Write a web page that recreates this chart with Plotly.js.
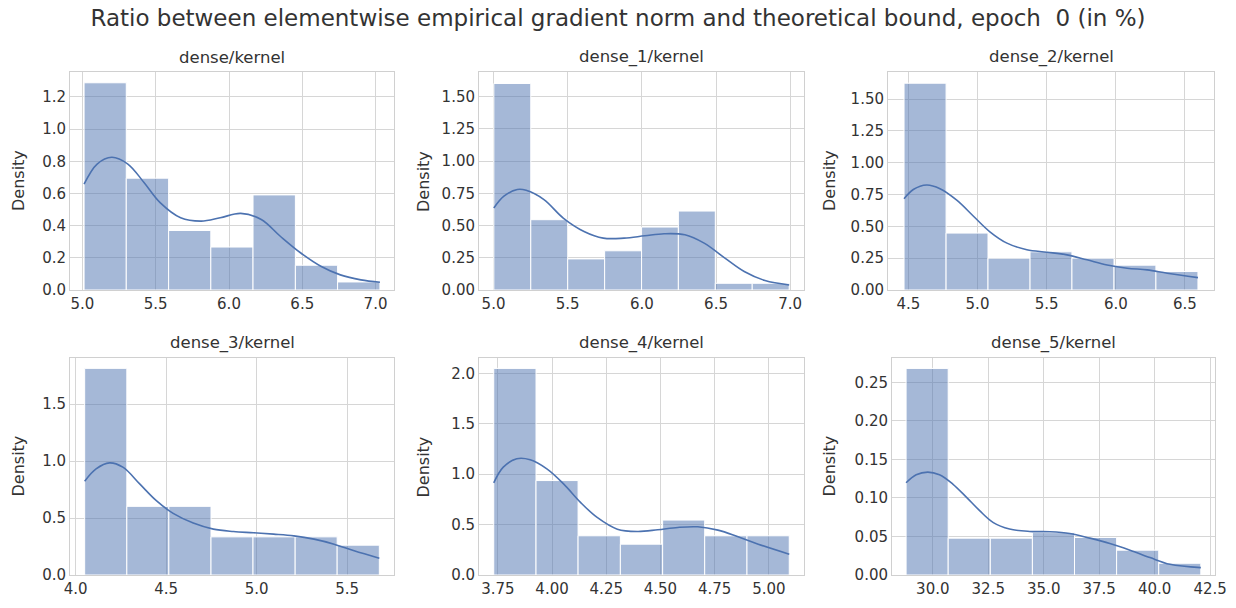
<!DOCTYPE html>
<html>
<head>
<meta charset="utf-8">
<script src="https://cdn.plot.ly/plotly-3.0.1.min.js"></script>
<style>html,body{margin:0;padding:0;background:#fff;}#chart{width:1236px;height:608px;}</style>
</head>
<body>
<div id="chart"></div>
<script>
// ---------- data ----------
const mainTitle = "Ratio between elementwise empirical gradient norm and theoretical bound, epoch  0 (in %)";
const panelTitles = ["dense/kernel", "dense_1/kernel", "dense_2/kernel", "dense_3/kernel", "dense_4/kernel", "dense_5/kernel"];

// histogram bin edges and densities
const edges0 = [5.011, 5.299, 5.588, 5.876, 6.164, 6.453, 6.741, 7.030];
const dens0  = [1.288, 0.695, 0.370, 0.267, 0.591, 0.154, 0.050];
const edges1 = [5.002, 5.251, 5.500, 5.749, 5.998, 6.246, 6.495, 6.744, 6.993];
const dens1  = [1.601, 0.545, 0.241, 0.304, 0.488, 0.612, 0.052, 0.052];
const edges2 = [4.469, 4.773, 5.076, 5.380, 5.683, 5.987, 6.290, 6.594];
const dens2  = [1.624, 0.447, 0.250, 0.300, 0.250, 0.195, 0.145];
const edges3 = [4.050, 4.283, 4.515, 4.748, 4.980, 5.213, 5.445, 5.678];
const dens3  = [1.815, 0.603, 0.603, 0.335, 0.335, 0.335, 0.262];
const edges4 = [3.731, 3.926, 4.120, 4.315, 4.510, 4.704, 4.899, 5.094];
const dens4  = [2.050, 0.937, 0.389, 0.306, 0.545, 0.389, 0.389];
const edges5 = [28.795, 30.693, 32.591, 34.489, 36.387, 38.285, 40.183, 42.081];
const dens5  = [0.268, 0.0478, 0.0478, 0.055, 0.0487, 0.0322, 0.0152];

// KDE curves
const kdeX0 = [5.011, 5.10, 5.20, 5.31, 5.42, 5.53, 5.67, 5.81, 5.94, 6.08, 6.22, 6.35, 6.49, 6.63, 6.76, 6.90, 7.030];
const kdeY0 = [0.658, 0.783, 0.825, 0.783, 0.668, 0.543, 0.449, 0.428, 0.449, 0.476, 0.438, 0.334, 0.230, 0.146, 0.094, 0.063, 0.048];
const kdeX1 = [5.002, 5.07, 5.16, 5.22, 5.34, 5.47, 5.61, 5.74, 5.88, 6.02, 6.15, 6.29, 6.42, 6.56, 6.69, 6.83, 6.993];
const kdeY1 = [0.636, 0.727, 0.779, 0.773, 0.701, 0.558, 0.454, 0.402, 0.402, 0.420, 0.436, 0.428, 0.363, 0.247, 0.143, 0.073, 0.039];
const kdeX2 = [4.469, 4.536, 4.633, 4.729, 4.850, 4.971, 5.092, 5.213, 5.357, 5.502, 5.647, 5.792, 5.937, 6.082, 6.227, 6.372, 6.594];
const kdeY2 = [0.716, 0.789, 0.824, 0.795, 0.705, 0.579, 0.455, 0.368, 0.316, 0.297, 0.276, 0.237, 0.197, 0.171, 0.158, 0.132, 0.097];
const kdeX3 = [4.050, 4.113, 4.187, 4.261, 4.354, 4.446, 4.539, 4.650, 4.761, 4.872, 4.983, 5.094, 5.206, 5.317, 5.428, 5.539, 5.678];
const kdeY3 = [0.824, 0.932, 0.985, 0.947, 0.800, 0.653, 0.541, 0.456, 0.403, 0.382, 0.371, 0.359, 0.344, 0.315, 0.271, 0.212, 0.147];
const kdeX4 = [3.731, 3.775, 3.837, 3.899, 3.976, 4.053, 4.131, 4.208, 4.301, 4.394, 4.487, 4.580, 4.672, 4.765, 4.858, 4.951, 5.094];
const kdeY4 = [0.914, 1.070, 1.153, 1.143, 1.053, 0.904, 0.721, 0.571, 0.455, 0.432, 0.449, 0.472, 0.478, 0.445, 0.379, 0.306, 0.206];
const kdeX5 = [28.795, 29.25, 29.77, 30.30, 30.90, 31.51, 32.11, 32.71, 33.46, 34.37, 35.27, 36.17, 37.08, 37.98, 38.89, 39.79, 40.69, 42.081];
const kdeY5 = [0.1196, 0.130, 0.1335, 0.130, 0.118, 0.101, 0.0835, 0.0683, 0.0596, 0.0565, 0.0561, 0.0539, 0.0478, 0.0409, 0.0322, 0.0226, 0.0139, 0.0096];

// axis ticks
const xTick0 = [5.0, 5.0, 4.5, 4.0, 3.75, 30.0];
const xDtick = [0.5, 0.5, 0.5, 0.5, 0.25, 2.5];
const xFmt   = [".1f", ".1f", ".1f", ".1f", ".2f", ".1f"];
const yDtick = [0.2, 0.25, 0.25, 0.5, 0.5, 0.05];
const yFmt   = [".1f", ".2f", ".2f", ".1f", ".1f", ".2f"];

// ---------- layout geometry ----------
const W = 1236, H = 608;
const boxes = [ // left, right, top, bottom in px
  [70, 394, 72, 290], [479, 804, 72, 290], [888, 1214, 72, 290],
  [70, 394, 358, 575], [479, 804, 358, 575], [892, 1215, 358, 575]
];
const xRanges = [[4.915, 7.126], [4.902, 7.093], [4.353, 6.710], [3.969, 5.759], [3.663, 5.162], [28.16, 42.72]];
const yRanges = [[0, 1.355], [0, 1.690], [0, 1.712], [0, 1.906], [0, 2.153], [0, 0.2815]];
const densityShift = [-52, -56, -59, -52, -56, -63];

const edges = [edges0, edges1, edges2, edges3, edges4, edges5];
const dens = [dens0, dens1, dens2, dens3, dens4, dens5];
const kdeX = [kdeX0, kdeX1, kdeX2, kdeX3, kdeX4, kdeX5];
const kdeY = [kdeY0, kdeY1, kdeY2, kdeY3, kdeY4, kdeY5];

const FONT = "DejaVu Sans, Verdana, sans-serif";
const TXT = "#333333";
const traces = [];
const layout = {
  width: W, height: H,
  margin: {l: 0, r: 0, t: 0, b: 0},
  paper_bgcolor: "#ffffff", plot_bgcolor: "#ffffff",
  showlegend: false,
  bargap: 0,
  font: {family: FONT, color: TXT, size: 15},
  title: {text: mainTitle, x: 0.5, xanchor: "center", y: 1 - 18 / H, yanchor: "middle",
          font: {family: FONT, size: 23, color: TXT}},
  annotations: []
};

for (let i = 0; i < 6; i++) {
  const n = i + 1;
  const xa = n === 1 ? "x" : "x" + n;
  const ya = n === 1 ? "y" : "y" + n;
  const e = edges[i];
  const centers = [], widths = [];
  for (let k = 0; k < e.length - 1; k++) {
    centers.push((e[k] + e[k + 1]) / 2);
    widths.push(e[k + 1] - e[k]);
  }
  traces.push({
    type: "bar", x: centers, y: dens[i], width: widths,
    xaxis: xa, yaxis: ya,
    marker: {color: "rgba(76,114,176,0.5)", line: {color: "#ffffff", width: 1}},
    hoverinfo: "x+y"
  });
  traces.push({
    type: "scatter", mode: "lines", x: kdeX[i], y: kdeY[i],
    xaxis: xa, yaxis: ya,
    line: {color: "#4c72b0", width: 1.6, shape: "spline", smoothing: 1}
  });
  const b = boxes[i];
  const axBase = {
    showgrid: true, gridcolor: "#d6d6d6", gridwidth: 1,
    zeroline: false, showline: true, mirror: true, linecolor: "#d0d0d0", linewidth: 1,
    ticks: "", tickfont: {family: FONT, size: 15, color: TXT}, fixedrange: true
  };
  layout["xaxis" + (n === 1 ? "" : n)] = Object.assign({}, axBase, {
    domain: [b[0] / W, b[1] / W], anchor: ya, range: xRanges[i],
    tickmode: "linear", tick0: xTick0[i], dtick: xDtick[i], tickformat: xFmt[i]
  });
  layout["yaxis" + (n === 1 ? "" : n)] = Object.assign({}, axBase, {
    domain: [1 - b[3] / H, 1 - b[2] / H], anchor: xa, range: yRanges[i],
    tickmode: "linear", tick0: 0, dtick: yDtick[i], tickformat: yFmt[i]
  });
  layout.annotations.push({
    text: panelTitles[i], xref: "paper", yref: "paper",
    x: (b[0] + b[1]) / 2 / W, y: 1 - b[2] / H, xanchor: "center", yanchor: "bottom",
    yshift: 3, showarrow: false, font: {family: FONT, size: 16.5, color: TXT}
  });
  layout.annotations.push({
    text: "Density", xref: "paper", yref: "paper",
    x: b[0] / W, y: 1 - (b[2] + b[3]) / 2 / H, xanchor: "center", yanchor: "middle",
    xshift: densityShift[i], textangle: -90, showarrow: false,
    font: {family: FONT, size: 16, color: TXT}
  });
}

Plotly.newPlot("chart", traces, layout, {displayModeBar: false, staticPlot: true});
</script>
</body>
</html>
